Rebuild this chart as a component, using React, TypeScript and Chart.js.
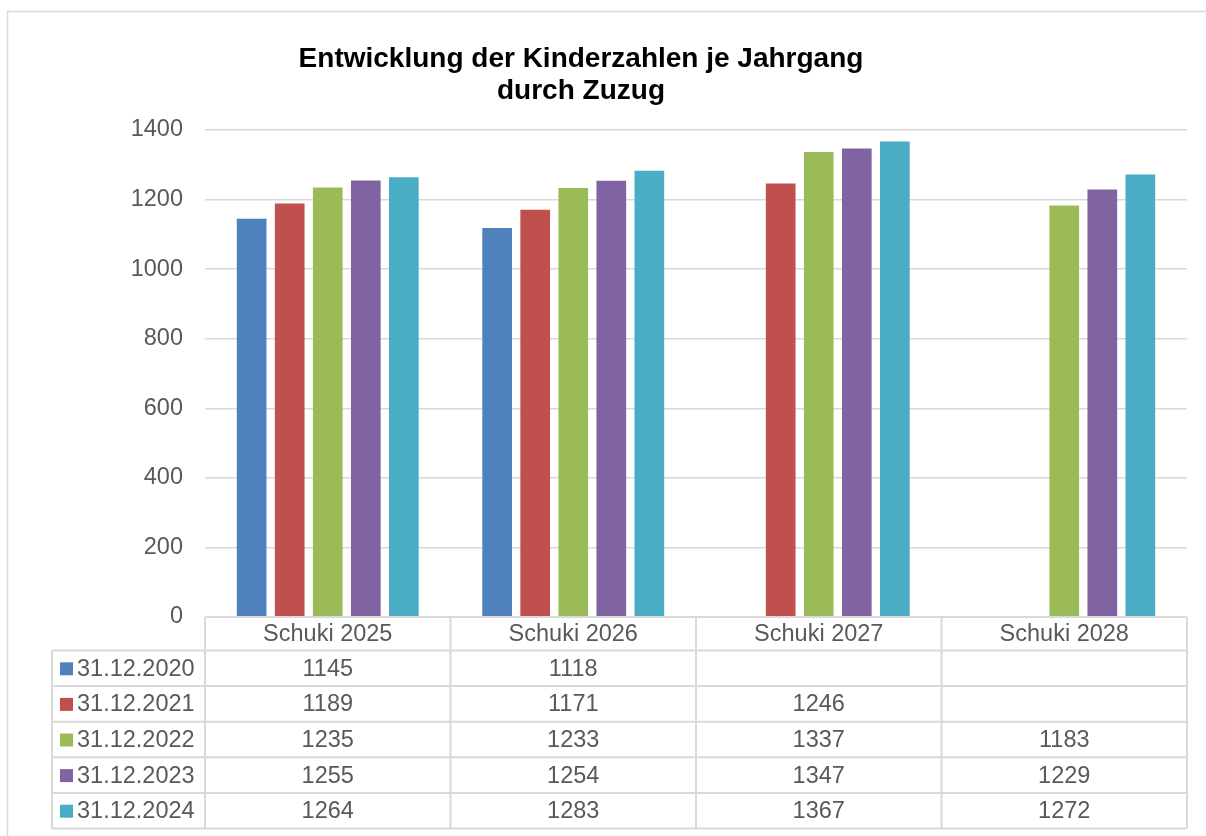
import React, { useEffect, useRef } from "react";
import { Chart, registerables } from "chart.js";
Chart.register(...registerables);

const categories = ["Schuki 2025", "Schuki 2026", "Schuki 2027", "Schuki 2028"];
const seriesLabels = ["31.12.2020", "31.12.2021", "31.12.2022", "31.12.2023", "31.12.2024"];
const s2020: (number | null)[] = [1145, 1118, null, null];
const s2021: (number | null)[] = [1189, 1171, 1246, null];
const s2022: (number | null)[] = [1235, 1233, 1337, 1183];
const s2023: (number | null)[] = [1255, 1254, 1347, 1229];
const s2024: (number | null)[] = [1264, 1283, 1367, 1272];
const seriesValues = [s2020, s2021, s2022, s2023, s2024];
const seriesColors = ["#4F81BD", "#C0504D", "#9BBB59", "#8064A2", "#4BACC6"];
const titleLines = ["Entwicklung der Kinderzahlen je Jahrgang", "durch Zuzug"];
const yMin = 0;
const yMax = 1400;
const yStep = 200;

const FONT = "'Liberation Sans', Arial, sans-serif";
const GRID = "#d9d9d9";
const TEXT = "#595959";
const TXT_SIZE = 23.5;

const decorPlugin = {
  id: "decor",
  afterDraw(chart: any) {
    const ctx = chart.ctx as CanvasRenderingContext2D;
    const ca = chart.chartArea;
    const xs = chart.scales.x;
    ctx.save();
    // outer frame
    ctx.strokeStyle = GRID;
    ctx.lineWidth = 1.5;
    ctx.beginPath();
    ctx.moveTo(7.5, 900);
    ctx.lineTo(7.5, 11.5);
    ctx.lineTo(1300, 11.5);
    ctx.stroke();

    // title
    ctx.fillStyle = "#000000";
    ctx.font = `bold 28px ${FONT}`;
    ctx.textAlign = "center";
    ctx.textBaseline = "middle";
    ctx.fillText(titleLines[0], 581, 59);
    ctx.fillText(titleLines[1], 581, 91);

    // data table
    const top = ca.bottom;
    const headerH = 33.5;
    const rowH = 35.6;
    const labelLeft = 52;
    const left = ca.left;
    const right = ca.right;
    const n = categories.length;
    const colW = (right - left) / n;
    const bottom = top + headerH + rowH * seriesLabels.length;
    ctx.strokeStyle = GRID;
    ctx.lineWidth = 2;
    ctx.beginPath();
    ctx.moveTo(left, top);
    ctx.lineTo(right, top);
    for (let r = 0; r <= seriesLabels.length; r++) {
      const y = top + headerH + r * rowH;
      ctx.moveTo(labelLeft, y);
      ctx.lineTo(right, y);
    }
    for (let c = 0; c <= n; c++) {
      const x = left + c * colW;
      ctx.moveTo(x, top);
      ctx.lineTo(x, bottom);
    }
    ctx.moveTo(labelLeft, top + headerH);
    ctx.lineTo(labelLeft, bottom);
    ctx.stroke();

    ctx.font = `${TXT_SIZE}px ${FONT}`;
    ctx.fillStyle = TEXT;
    ctx.textAlign = "center";
    ctx.textBaseline = "middle";
    for (let c = 0; c < n; c++) {
      const cx = xs.getPixelForValue(c);
      ctx.fillText(categories[c], cx, top + headerH / 2 + 1);
    }
    for (let r = 0; r < seriesLabels.length; r++) {
      const cy = top + headerH + r * rowH + rowH / 2 + 1;
      ctx.fillStyle = seriesColors[r];
      ctx.fillRect(60, cy - 7, 13, 13);
      ctx.fillStyle = TEXT;
      ctx.textAlign = "left";
      ctx.fillText(seriesLabels[r], 77, cy);
      ctx.textAlign = "center";
      for (let c = 0; c < n; c++) {
        const v = seriesValues[r][c];
        if (v !== null && v !== undefined) {
          ctx.fillText(String(v), xs.getPixelForValue(c), cy);
        }
      }
    }
    ctx.restore();
  },
};

export default function App() {
  const ref = useRef<HTMLCanvasElement>(null);
  useEffect(() => {
    if (!ref.current) return;
    const chart = new Chart(ref.current, {
      type: "bar",
      data: {
        labels: categories,
        datasets: seriesLabels.map((label, i) => ({
          label,
          data: seriesValues[i],
          backgroundColor: seriesColors[i],
          borderWidth: 0,
          categoryPercentage: 0.775,
          barPercentage: 0.78,
        })),
      },
      options: {
        animation: false,
        responsive: true,
        maintainAspectRatio: false,
        layout: { padding: { left: 0, right: 19, top: 130, bottom: 219 } },
        plugins: {
          legend: { display: false },
          title: { display: false },
          tooltip: { enabled: false },
        },
        scales: {
          x: {
            display: true,
            grid: { display: false },
            border: { display: false },
            ticks: { display: false },
            afterFit: (s: any) => {
              s.height = 0;
            },
          },
          y: {
            min: yMin,
            max: yMax,
            border: { display: false },
            grid: { color: GRID, lineWidth: 1.5, drawTicks: false },
            ticks: {
              stepSize: yStep,
              padding: 22,
              color: TEXT,
              font: { family: FONT, size: TXT_SIZE },
              callback: (v: any) => String(v),
            },
            afterFit: (s: any) => {
              s.width = 205;
            },
          },
        },
      },
      plugins: [decorPlugin],
    });
    return () => chart.destroy();
  }, []);
  return (
    <div style={{ position: "fixed", left: 0, top: 0, width: 1206, height: 836, background: "#fff" }}>
      <canvas ref={ref} />
    </div>
  );
}
